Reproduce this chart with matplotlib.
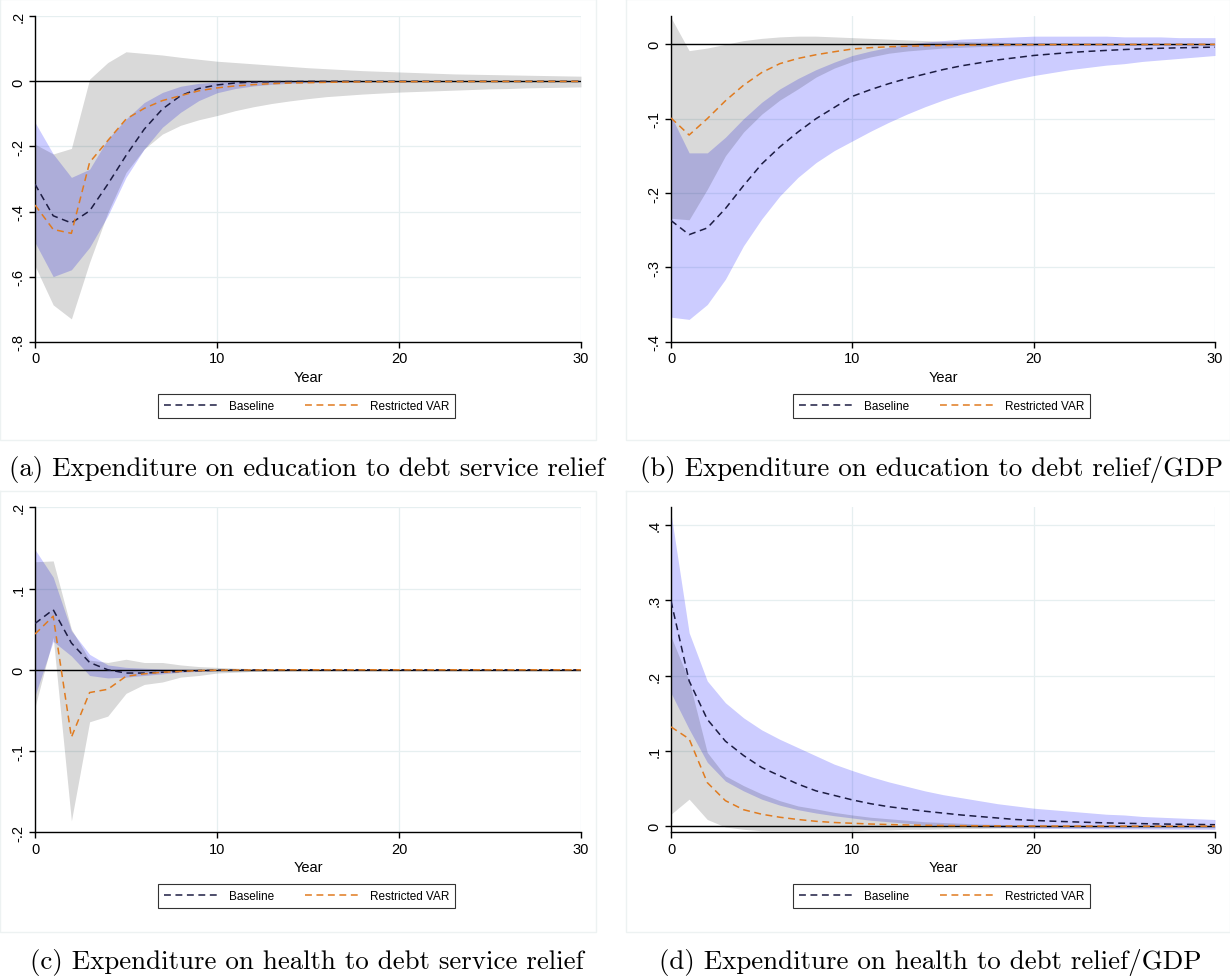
import matplotlib
matplotlib.use("Agg")
import matplotlib.pyplot as plt
from matplotlib.lines import Line2D
import numpy as np

years = list(range(31))

# ---------------- Panel (a): education, debt service relief ----------------
a_base = [-0.316, -0.413, -0.435, -0.398, -0.316, -0.228, -0.147, -0.085, -0.044, -0.022,
          -0.011, -0.005, -0.002, -0.001, -0.0005, 0, 0, 0, 0, 0, 0, 0, 0, 0, 0, 0, 0, 0, 0, 0, 0]
a_rvar = [-0.380, -0.455, -0.467, -0.249, -0.182, -0.116, -0.083, -0.059, -0.044, -0.029,
          -0.020, -0.014, -0.010, -0.007, -0.005, -0.004, -0.003, -0.002, -0.0015, -0.001,
          -0.001, -0.0008, -0.0006, -0.0005, -0.0004, -0.0003, -0.0002, -0.0002, -0.0001, -0.0001, 0]
a_base_hi = [-0.126, -0.223, -0.295, -0.270, -0.177, -0.116, -0.065, -0.034, -0.015, -0.006,
             -0.002, 0.000, 0.001, 0.001, 0.001, 0.001, 0.0008, 0.0006, 0.0005, 0.0004,
             0.0003, 0.0003, 0.0002, 0.0002, 0.0002, 0.0001, 0.0001, 0.0001, 0.0001, 0.0001, 0.0001]
a_base_lo = [-0.495, -0.600, -0.579, -0.510, -0.413, -0.295, -0.208, -0.141, -0.095, -0.059,
             -0.035, -0.022, -0.014, -0.009, -0.006, -0.004, -0.003, -0.002, -0.0015, -0.001,
             -0.001, -0.0008, -0.0006, -0.0005, -0.0004, -0.0003, -0.0003, -0.0002, -0.0002, -0.0001, -0.0001]
a_rvar_hi = [-0.193, -0.223, -0.206, 0.007, 0.058, 0.091, 0.086, 0.081, 0.074, 0.068,
             0.062, 0.058, 0.054, 0.050, 0.046, 0.042, 0.039, 0.036, 0.033, 0.031,
             0.029, 0.027, 0.025, 0.023, 0.022, 0.021, 0.020, 0.019, 0.018, 0.017, 0.016]
a_rvar_lo = [-0.567, -0.687, -0.730, -0.556, -0.403, -0.280, -0.208, -0.162, -0.135, -0.118,
             -0.105, -0.090, -0.078, -0.068, -0.060, -0.053, -0.047, -0.043, -0.039, -0.036,
             -0.033, -0.031, -0.029, -0.027, -0.025, -0.023, -0.022, -0.020, -0.019, -0.018, -0.017]

# ---------------- Panel (b): education, debt relief/GDP ----------------
b_base = [-0.237, -0.256, -0.247, -0.221, -0.190, -0.161, -0.138, -0.118, -0.100, -0.085,
          -0.070, -0.061, -0.053, -0.046, -0.040, -0.034, -0.029, -0.025, -0.021, -0.018,
          -0.015, -0.013, -0.011, -0.0095, -0.0082, -0.007, -0.006, -0.0053, -0.0047, -0.0042, -0.0038]
b_rvar = [-0.099, -0.122, -0.100, -0.076, -0.055, -0.038, -0.026, -0.019, -0.014, -0.010,
          -0.0063, -0.0045, -0.0033, -0.0025, -0.0019, -0.0015, -0.0012, -0.001, -0.0008, -0.0006,
          -0.0005, -0.0004, -0.0003, -0.0003, -0.0002, -0.0002, -0.0002, -0.0001, -0.0001, -0.0001, -0.0001]
b_base_hi = [-0.096, -0.146, -0.146, -0.125, -0.100, -0.078, -0.060, -0.046, -0.034, -0.024,
             -0.015, -0.009, -0.004, 0.000, 0.003, 0.005, 0.007, 0.008, 0.009, 0.010,
             0.011, 0.011, 0.011, 0.011, 0.011, 0.010, 0.010, 0.010, 0.009, 0.009, 0.009]
b_base_lo = [-0.367, -0.370, -0.350, -0.316, -0.271, -0.235, -0.204, -0.179, -0.159, -0.143,
             -0.130, -0.117, -0.105, -0.094, -0.084, -0.075, -0.067, -0.060, -0.053, -0.047,
             -0.042, -0.038, -0.034, -0.031, -0.028, -0.026, -0.023, -0.021, -0.019, -0.017, -0.015]
b_rvar_hi = [0.036, -0.0085, -0.005, 0.000, 0.005, 0.008, 0.010, 0.011, 0.011, 0.010,
             0.009, 0.008, 0.007, 0.006, 0.005, 0.004, 0.004, 0.003, 0.003, 0.002,
             0.002, 0.002, 0.0015, 0.0015, 0.0012, 0.001, 0.001, 0.001, 0.001, 0.0008, 0.0008]
b_rvar_lo = [-0.234, -0.236, -0.195, -0.150, -0.118, -0.094, -0.075, -0.060, -0.044, -0.032,
             -0.023, -0.017, -0.012, -0.009, -0.007, -0.005, -0.004, -0.003, -0.0025, -0.002,
             -0.002, -0.0015, -0.0015, -0.0012, -0.001, -0.001, -0.001, -0.0008, -0.0008, -0.0006, -0.0006]

# ---------------- Panel (c): health, debt service relief ----------------
c_base = [0.057, 0.074, 0.033, 0.009, 0.000, -0.004, -0.004, -0.003, -0.002, -0.001,
          -0.0005, -0.0003, -0.0002, -0.0001, 0, 0, 0, 0, 0, 0, 0, 0, 0, 0, 0, 0, 0, 0, 0, 0, 0]
c_rvar = [0.044, 0.066, -0.083, -0.028, -0.024, -0.008, -0.005, -0.003, -0.002, -0.001,
          -0.0005, -0.0003, -0.0002, -0.0001, 0, 0, 0, 0, 0, 0, 0, 0, 0, 0, 0, 0, 0, 0, 0, 0, 0]
c_base_hi = [0.148, 0.114, 0.048, 0.019, 0.006, 0.003, 0.002, 0.001, 0.0008, 0.0005,
             0.0003, 0.0002, 0.0001, 0.0001, 0, 0, 0, 0, 0, 0, 0, 0, 0, 0, 0, 0, 0, 0, 0, 0, 0]
c_base_lo = [-0.032, 0.035, 0.017, -0.007, -0.010, -0.009, -0.007, -0.005, -0.003, -0.002,
             -0.001, -0.0007, -0.0004, -0.0002, -0.0001, 0, 0, 0, 0, 0, 0, 0, 0, 0, 0, 0, 0, 0, 0, 0, 0]
c_rvar_hi = [0.133, 0.134, 0.050, 0.012, 0.009, 0.013, 0.009, 0.009, 0.006, 0.004,
             0.003, 0.002, 0.0015, 0.001, 0.001, 0.0008, 0.0006, 0.0005, 0.0004, 0.0003,
             0.0003, 0.0002, 0.0002, 0.0002, 0.0001, 0.0001, 0.0001, 0.0001, 0.0001, 0.0001, 0.0001]
c_rvar_lo = [-0.046, 0.040, -0.186, -0.064, -0.057, -0.029, -0.018, -0.015, -0.009, -0.007,
             -0.004, -0.003, -0.002, -0.0015, -0.001, -0.0008, -0.0006, -0.0005, -0.0004, -0.0003,
             -0.0003, -0.0002, -0.0002, -0.0002, -0.0001, -0.0001, -0.0001, -0.0001, -0.0001, -0.0001, -0.0001]

# ---------------- Panel (d): health, debt relief/GDP ----------------
d_base = [0.299, 0.193, 0.142, 0.113, 0.094, 0.078, 0.067, 0.056, 0.047, 0.041,
          0.035, 0.030, 0.026, 0.023, 0.020, 0.0175, 0.015, 0.013, 0.011, 0.009,
          0.0078, 0.0068, 0.006, 0.0052, 0.0045, 0.004, 0.0035, 0.003, 0.0027, 0.0024, 0.0021]
d_rvar = [0.132, 0.116, 0.058, 0.034, 0.022, 0.016, 0.012, 0.009, 0.0066, 0.005,
          0.004, 0.003, 0.0023, 0.0017, 0.0013, 0.001, 0.0008, 0.0006, 0.0005, 0.0004,
          0.0003, 0.0003, 0.0002, 0.0002, 0.0002, 0.0001, 0.0001, 0.0001, 0.0001, 0.0001, 0.0001]
d_base_hi = [0.4155, 0.257, 0.193, 0.164, 0.144, 0.128, 0.1155, 0.1045, 0.0935, 0.0825,
             0.074, 0.066, 0.059, 0.053, 0.047, 0.042, 0.038, 0.034, 0.030, 0.027,
             0.024, 0.022, 0.020, 0.018, 0.016, 0.015, 0.013, 0.012, 0.011, 0.010, 0.009]
d_base_lo = [0.177, 0.129, 0.085, 0.060, 0.047, 0.036, 0.028, 0.022, 0.0176, 0.014,
             0.011, 0.008, 0.006, 0.004, 0.002, 0.001, 0.000, -0.001, -0.0015, -0.002,
             -0.0025, -0.0028, -0.003, -0.0032, -0.0034, -0.0035, -0.0036, -0.0037, -0.0038, -0.0039, -0.004]
d_rvar_hi = [0.252, 0.193, 0.098, 0.067, 0.054, 0.043, 0.034, 0.027, 0.023, 0.0185,
             0.015, 0.012, 0.010, 0.008, 0.006, 0.005, 0.004, 0.003, 0.0025, 0.002,
             0.0018, 0.0015, 0.0013, 0.0012, 0.001, 0.001, 0.001, 0.001, 0.001, 0.001, 0.001]
d_rvar_lo = [0.016, 0.036, 0.009, -0.001, -0.004, -0.006, -0.006, -0.006, -0.006, -0.006,
             -0.006, -0.005, -0.005, -0.004, -0.004, -0.0035, -0.003, -0.003, -0.0025, -0.0025,
             -0.002, -0.002, -0.002, -0.002, -0.002, -0.002, -0.002, -0.002, -0.002, -0.002, -0.002]

x_ticks = [0, 10, 20, 30]
a_yticks = [0.2, 0, -0.2, -0.4, -0.6, -0.8]
a_ylabels = [".2", "0", "-.2", "-.4", "-.6", "-.8"]
b_yticks = [0, -0.1, -0.2, -0.3, -0.4]
b_ylabels = ["0", "-.1", "-.2", "-.3", "-.4"]
c_yticks = [0.2, 0.1, 0, -0.1, -0.2]
c_ylabels = [".2", ".1", "0", "-.1", "-.2"]
d_yticks = [0.4, 0.3, 0.2, 0.1, 0]
d_ylabels = [".4", ".3", ".2", ".1", "0"]

captions = ["(a) Expenditure on education to debt service relief",
            "(b) Expenditure on education to debt relief/GDP",
            "(c) Expenditure on health to debt service relief",
            "(d) Expenditure on health to debt relief/GDP"]
legend_labels = ["Baseline", "Restricted VAR"]

BASE_COL = "#1c1c42"
RVAR_COL = "#e07b1f"
GRID_COL = "#e6eff0"
DASH = (0, (4.5, 3))
SANS = ["Liberation Sans", "DejaVu Sans"]

W, H = 1230, 978
fig = plt.figure(figsize=(W / 100, H / 100), dpi=100)


def px_axes(x0, y0, x1, y1):
    return fig.add_axes([x0 / W, 1 - y1 / H, (x1 - x0) / W, (y1 - y0) / H])


# faint panel frames
for (fx0, fy0, fx1, fy1) in [(0, 0, 596, 441), (626, 0, 1230, 441),
                             (0, 492, 596, 933), (626, 492, 1230, 933)]:
    xs = np.array([fx0, fx1, fx1, fx0, fx0]) / W
    ys = 1 - np.array([fy0, fy0, fy1, fy1, fy0]) / H
    fig.add_artist(Line2D(xs, ys, color="#edf2f2", lw=1.0, transform=fig.transFigure))

panels = [
    dict(box=(35, 17.3, 581, 342.7), ylim=(-0.8, 0.2), yt=a_yticks, yl=a_ylabels,
         base=a_base, rvar=a_rvar, bhi=a_base_hi, blo=a_base_lo, rhi=a_rvar_hi, rlo=a_rvar_lo),
    dict(box=(671, 16.7, 1215, 342.7), ylim=(-0.4, 0.0385), yt=b_yticks, yl=b_ylabels,
         base=b_base, rvar=b_rvar, bhi=b_base_hi, blo=b_base_lo, rhi=b_rvar_hi, rlo=b_rvar_lo),
    dict(box=(35, 508.3, 581, 833.3), ylim=(-0.2, 0.2), yt=c_yticks, yl=c_ylabels,
         base=c_base, rvar=c_rvar, bhi=c_base_hi, blo=c_base_lo, rhi=c_rvar_hi, rlo=c_rvar_lo),
    dict(box=(671, 508.3, 1215, 833.3), ylim=(-0.008, 0.4235), yt=d_yticks, yl=d_ylabels,
         base=d_base, rvar=d_rvar, bhi=d_base_hi, blo=d_base_lo, rhi=d_rvar_hi, rlo=d_rvar_lo),
]

caption_pos = [(307, 470), (932, 470), (307, 963), (930, 963)]

for i, p in enumerate(panels):
    ax = px_axes(*p["box"])
    ax.set_xlim(0, 30)
    ax.set_ylim(*p["ylim"])
    ax.fill_between(years, p["blo"], p["bhi"], color=(0, 0, 1), alpha=0.2, lw=0, zorder=2)
    ax.fill_between(years, p["rlo"], p["rhi"], color=(0, 0, 0), alpha=0.15, lw=0, zorder=3)
    ax.axhline(0, color="black", lw=1.0, zorder=4)
    ax.plot(years, p["base"], color=BASE_COL, lw=1.1, linestyle=DASH, zorder=5)
    ax.plot(years, p["rvar"], color=RVAR_COL, lw=1.1, linestyle=DASH, zorder=6)

    ax.set_xticks(x_ticks)
    ax.set_xticklabels([str(t) for t in x_ticks], fontfamily=SANS, fontsize=10.5)
    ax.set_yticks(p["yt"])
    ax.set_yticklabels(p["yl"], rotation=90, va="center", fontfamily=SANS, fontsize=10.5)
    ax.tick_params(axis="both", length=4, width=1.0, color="black", pad=3)
    ax.grid(True, color=GRID_COL, lw=0.9, zorder=0)
    ax.set_axisbelow(True)
    for s in ["top", "right"]:
        ax.spines[s].set_visible(False)
    for s in ["left", "bottom"]:
        ax.spines[s].set_linewidth(1.0)
        ax.spines[s].set_color("black")
    ax.set_xlabel("Year", fontfamily=SANS, fontsize=10.5, labelpad=3)

    handles = [Line2D([], [], color=BASE_COL, lw=1.1, linestyle=DASH),
               Line2D([], [], color=RVAR_COL, lw=1.1, linestyle=DASH)]
    leg = ax.legend(handles, legend_labels, loc="center", bbox_to_anchor=(0.497, -0.197),
                    ncol=2, frameon=True, fancybox=False, edgecolor="black",
                    prop={"family": SANS, "size": 8.5}, handlelength=4.6,
                    columnspacing=2.6, handletextpad=0.9, borderpad=0.5)
    leg.get_frame().set_linewidth(0.8)

    cx, cy = caption_pos[i]
    fig.text(cx / W, 1 - cy / H, captions[i], ha="center", va="center",
             fontfamily=["cmr10", "DejaVu Serif"], fontsize=19.4)

fig.savefig("out.png", dpi=100)
